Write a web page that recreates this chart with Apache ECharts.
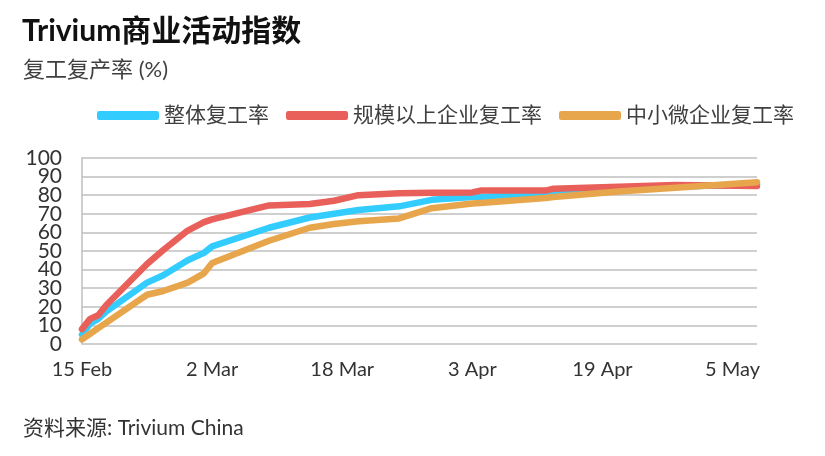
<!DOCTYPE html>
<html>
<head>
<meta charset="utf-8">
<script src="https://cdn.jsdelivr.net/npm/echarts@6/dist/echarts.min.js"></script>
<style>
  html, body { margin: 0; padding: 0; background: #fff; }
  #chart { width: 825px; height: 456px; }
</style>
</head>
<body>
<div id="chart"></div>
<script>
// day offsets counted from 15 Feb (2020, leap year)
var days = [0, 1, 2, 3, 8, 10, 13, 15, 16, 23, 28, 31, 34, 39, 43, 48, 49, 57, 58, 66, 73, 83];

// 整体复工率
var overall = [5, 11, 13.5, 17.5, 33, 37, 45, 49, 52.5, 62.5, 68, 70, 72, 74, 77.5, 79, 79, 80.5, 81, 82.5, 84.5, 86];
// 规模以上企业复工率
var large = [8, 13.5, 15.5, 21, 43, 50.5, 61, 65.5, 67, 74.5, 75.3, 77, 80, 81, 81.3, 81.5, 82.5, 82.5, 83.5, 84.5, 85.5, 85];
// 中小微企业复工率
var sme = [2.5, 5.5, 8.5, 11.5, 26.5, 28.5, 33, 38, 43.5, 55.5, 62.5, 64.5, 66, 67.5, 73, 75.5, 75.8, 78.5, 79, 82, 84, 87];

var seriesNames = ['整体复工率', '规模以上企业复工率', '中小微企业复工率'];
var seriesColors = ['#33CCFF', '#E9605A', '#E8A64C'];
var tickLabels = ['15 Feb', '2 Mar', '18 Mar', '3 Apr', '19 Apr', '5 May'];

var FONT = 'Lato, "Noto Sans CJK SC", sans-serif';

function pairs(vals) {
  return days.map(function (d, i) { return [d, vals[i]]; });
}

var yLabelStyle = { margin: 20, fontFamily: FONT, fontSize: 21, color: '#333' };

var chart = echarts.init(document.getElementById('chart'));

chart.setOption({
  animation: false,
  backgroundColor: '#fff',
  title: [{
    text: 'Trivium商业活动指数',
    left: 17, top: 11,
    textStyle: { fontFamily: FONT, fontSize: 30, fontWeight: 'bold', color: '#111' }
  }, {
    text: '复工复产率 (%)',
    left: 18, top: 54,
    textStyle: { fontFamily: FONT, fontSize: 22, fontWeight: 'normal', color: '#404040' }
  }, {
    text: '资料来源: Trivium China',
    left: 18, top: 413,
    textStyle: { fontFamily: FONT, fontSize: 21, fontWeight: 'normal', color: '#333' }
  }],
  legend: {
    left: 92, top: 100,
    itemWidth: 62, itemHeight: 9, itemGap: 17,
    icon: 'roundRect',
    textStyle: { fontFamily: FONT, fontSize: 21, color: '#404040' },
    data: seriesNames
  },
  grid: { left: 82, right: 68, top: 158, bottom: 112 },
  xAxis: {
    type: 'value',
    min: 0, max: 83, interval: 16,
    axisLine: { show: false },
    axisTick: { show: false },
    splitLine: { show: false },
    axisLabel: {
      margin: 16,
      fontFamily: FONT, fontSize: 20, color: '#333',
      showMinLabel: true,
      showMaxLabel: false,
      formatter: function (v) { return v % 16 === 0 ? tickLabels[v / 16] : ''; }
    }
  },
  yAxis: [{
    // labels 0, 20, ... 100 plus the axis line
    type: 'value', position: 'left',
    min: 0, max: 100, interval: 20,
    axisLine: { show: true, lineStyle: { color: '#BFBFBF', width: 1.5 } },
    axisTick: { show: false },
    splitLine: { show: false },
    axisLabel: Object.assign({ showMinLabel: true, showMaxLabel: true }, yLabelStyle)
  }, {
    // labels 10, 30, ... 90 plus the grid lines
    type: 'value', position: 'left',
    min: 0, max: 100, interval: 10,
    axisLine: { show: false },
    axisTick: { show: false },
    splitLine: { lineStyle: { color: '#BFBFBF', width: 1.5 } },
    axisLabel: Object.assign({
      showMinLabel: false, showMaxLabel: false,
      formatter: function (v) { return v % 20 === 10 ? String(v) : ''; }
    }, yLabelStyle)
  }],
  series: [overall, large, sme].map(function (vals, i) {
    return {
      name: seriesNames[i],
      type: 'line',
      yAxisIndex: 0,
      data: pairs(vals),
      symbol: 'none',
      color: seriesColors[i],
      lineStyle: { width: 6.5, color: seriesColors[i], cap: 'round', join: 'round' }
    };
  })
});
</script>
</body>
</html>
